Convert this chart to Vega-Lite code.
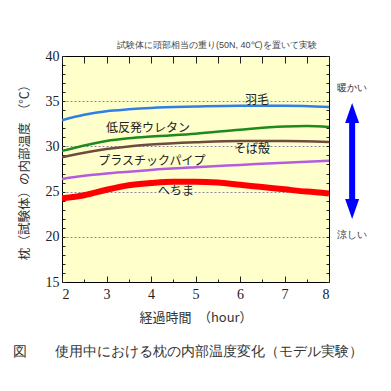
{
  "$schema": "https://vega.github.io/schema/vega-lite/v6.json",
  "width": 267,
  "height": 226,
  "autosize": "none",
  "padding": {"left": 62, "top": 56, "right": 62, "bottom": 109},
  "background": "white",
  "config": {
    "view": {"stroke": "black", "strokeWidth": 1, "fill": "#FFFFCC"},
    "axis": {"labelFont": "Liberation Serif", "labelFontSize": 14, "labelColor": "#222", "titleFont": "Noto Sans CJK JP", "titleFontWeight": "normal", "titleColor": "#333", "domain": false, "tickColor": "#222"}
  },
  "datasets": {
    "curves": [
      {"series": "羽毛", "t": 2, "temp": 32.9}, {"series": "羽毛", "t": 2.5, "temp": 33.5}, {"series": "羽毛", "t": 3, "temp": 33.9}, {"series": "羽毛", "t": 3.5, "temp": 34.1}, {"series": "羽毛", "t": 4, "temp": 34.25}, {"series": "羽毛", "t": 5, "temp": 34.4}, {"series": "羽毛", "t": 6, "temp": 34.5}, {"series": "羽毛", "t": 7, "temp": 34.5}, {"series": "羽毛", "t": 8, "temp": 34.35},
      {"series": "低反発ウレタン", "t": 2, "temp": 29.5}, {"series": "低反発ウレタン", "t": 2.5, "temp": 30.1}, {"series": "低反発ウレタン", "t": 3, "temp": 30.6}, {"series": "低反発ウレタン", "t": 3.5, "temp": 30.9}, {"series": "低反発ウレタン", "t": 4, "temp": 31.1}, {"series": "低反発ウレタン", "t": 5, "temp": 31.4}, {"series": "低反発ウレタン", "t": 6, "temp": 31.85}, {"series": "低反発ウレタン", "t": 7, "temp": 32.2}, {"series": "低反発ウレタン", "t": 7.5, "temp": 32.25}, {"series": "低反発ウレタン", "t": 8, "temp": 32.15},
      {"series": "そば殻", "t": 2, "temp": 28.8}, {"series": "そば殻", "t": 2.5, "temp": 29.3}, {"series": "そば殻", "t": 3, "temp": 29.7}, {"series": "そば殻", "t": 3.5, "temp": 30.0}, {"series": "そば殻", "t": 4, "temp": 30.2}, {"series": "そば殻", "t": 5, "temp": 30.45}, {"series": "そば殻", "t": 6, "temp": 30.6}, {"series": "そば殻", "t": 7, "temp": 30.6}, {"series": "そば殻", "t": 8, "temp": 30.5},
      {"series": "プラスチックパイプ", "t": 2, "temp": 26.4}, {"series": "プラスチックパイプ", "t": 2.5, "temp": 26.75}, {"series": "プラスチックパイプ", "t": 3, "temp": 27.0}, {"series": "プラスチックパイプ", "t": 3.5, "temp": 27.2}, {"series": "プラスチックパイプ", "t": 4, "temp": 27.4}, {"series": "プラスチックパイプ", "t": 5, "temp": 27.7}, {"series": "プラスチックパイプ", "t": 6, "temp": 27.95}, {"series": "プラスチックパイプ", "t": 7, "temp": 28.2}, {"series": "プラスチックパイプ", "t": 8, "temp": 28.4},
      {"series": "へちま", "t": 2, "temp": 24.25}, {"series": "へちま", "t": 2.5, "temp": 24.6}, {"series": "へちま", "t": 3, "temp": 25.2}, {"series": "へちま", "t": 3.5, "temp": 25.7}, {"series": "へちま", "t": 4, "temp": 25.95}, {"series": "へちま", "t": 4.5, "temp": 26.1}, {"series": "へちま", "t": 5, "temp": 26.1}, {"series": "へちま", "t": 5.5, "temp": 26.0}, {"series": "へちま", "t": 6, "temp": 25.75}, {"series": "へちま", "t": 6.5, "temp": 25.5}, {"series": "へちま", "t": 7, "temp": 25.25}, {"series": "へちま", "t": 7.5, "temp": 25.0}, {"series": "へちま", "t": 8, "temp": 24.8}
    ],
    "labels": [
      {"label": "羽毛", "t": 6.38, "temp": 35.1},
      {"label": "低反発ウレタン", "t": 3.93, "temp": 32.0},
      {"label": "そば殻", "t": 6.27, "temp": 29.7},
      {"label": "プラスチックパイプ", "t": 4.02, "temp": 28.4},
      {"label": "へちま", "t": 4.56, "temp": 25.05}
    ],
    "notes": [
      {"label": "暖かい", "t": 8.52, "temp": 36.5, "size": 10, "font": "Noto Sans CJK JP", "color": "#333"},
      {"label": "涼しい", "t": 8.52, "temp": 20.2, "size": 10, "font": "Noto Sans CJK JP", "color": "#333"},
      {"label": "試験体に頭部相当の重り(50N, 40℃)を置いて実験", "t": 5.48, "temp": 41.25, "size": 9, "font": "Noto Sans CJK JP", "color": "#444"},
      {"label": "図　　使用中における枕の内部温度変化（モデル実験）", "t": 4.83, "temp": 7.26, "size": 14, "font": "Noto Sans CJK JP", "color": "#333"}
    ],
    "shaft": [{"t": 8.52, "top": 33.0, "bottom": 24.1}],
    "heads": [
      {"t": 8.52, "temp": 33.7, "dir": "up"},
      {"t": 8.52, "temp": 23.07, "dir": "down"}
    ]
  },
  "resolve": {"axis": {"x": "independent", "y": "independent"}},
  "layer": [
    {
      "data": {"name": "curves"},
      "mark": {"type": "line", "interpolate": "monotone", "clip": true},
      "encoding": {
        "x": {"field": "t", "type": "quantitative", "scale": {"domain": [2, 8], "nice": false, "zero": false},
          "axis": {"orient": "bottom", "values": [2, 2.5, 3, 3.5, 4, 4.5, 5, 5.5, 6, 6.5, 7, 7.5, 8], "labelExpr": "datum.value % 1 === 0 ? format(datum.value, 'd') : ''",
            "tickSize": {"condition": {"test": "datum.value % 1 === 0", "value": -6}, "value": -3}, "labelPadding": 11, "grid": false,
            "title": "経過時間　（hour）", "titleFontSize": 13, "titlePadding": 10}},
        "y": {"field": "temp", "type": "quantitative", "scale": {"domain": [15, 40], "nice": false, "zero": false},
          "axis": {"orient": "left", "values": [15,16,17,18,19,20,21,22,23,24,25,26,27,28,29,30,31,32,33,34,35,36,37,38,39,40],
            "labelExpr": "datum.value % 5 === 0 ? datum.label : ''", "tickSize": -3, "labelPadding": 6,
            "grid": true, "gridDash": [2, 2], "gridColor": "#8888AA",
            "gridOpacity": {"condition": {"test": "datum.value % 5 === 0 && datum.value > 15 && datum.value < 40", "value": 1}, "value": 0},
            "title": "枕（試験体）の内部温度　（℃）", "titleFontSize": 12.5, "titlePadding": 14}},
        "color": {"field": "series", "type": "nominal", "legend": null,
          "scale": {"domain": ["羽毛", "低反発ウレタン", "そば殻", "プラスチックパイプ", "へちま"], "range": ["#2E7FE8", "#1E8A1E", "#6E4B3C", "#B45CE0", "#FF0000"]}},
        "strokeWidth": {"condition": {"test": "datum.series === 'へちま'", "value": 6}, "value": 2.5}
      }
    },
    {
      "data": {"name": "curves"},
      "mark": {"type": "point", "opacity": 0},
      "encoding": {
        "x": {"field": "t", "type": "quantitative",
          "axis": {"orient": "top", "values": [2, 2.5, 3, 3.5, 4, 4.5, 5, 5.5, 6, 6.5, 7, 7.5, 8], "labels": false, "tickSize": -7, "grid": false, "title": null}},
        "y": {"field": "temp", "type": "quantitative",
          "axis": {"orient": "right", "values": [15,16,17,18,19,20,21,22,23,24,25,26,27,28,29,30,31,32,33,34,35,36,37,38,39,40], "labels": false, "tickSize": -3, "grid": false, "title": null}}
      }
    },
    {
      "data": {"name": "labels"},
      "mark": {"type": "text", "font": "Noto Sans CJK JP", "fontSize": 12, "color": "#222", "baseline": "middle", "align": "center"},
      "encoding": {
        "x": {"field": "t", "type": "quantitative", "axis": null},
        "y": {"field": "temp", "type": "quantitative", "axis": null},
        "text": {"field": "label"}
      }
    },
    {
      "data": {"name": "notes"},
      "mark": {"type": "text", "baseline": "middle", "align": "center"},
      "encoding": {
        "x": {"field": "t", "type": "quantitative", "axis": null},
        "y": {"field": "temp", "type": "quantitative", "axis": null},
        "text": {"field": "label"},
        "size": {"field": "size", "type": "quantitative", "scale": null, "legend": null},
        "font": {"field": "font"},
        "color": {"field": "color", "type": "nominal", "scale": null, "legend": null}
      }
    },
    {
      "data": {"name": "shaft"},
      "mark": {"type": "rule", "color": "#0000FF", "strokeWidth": 6},
      "encoding": {
        "x": {"field": "t", "type": "quantitative", "axis": null},
        "y": {"field": "top", "type": "quantitative", "axis": null},
        "y2": {"field": "bottom"}
      }
    },
    {
      "data": {"name": "heads"},
      "mark": {"type": "point", "filled": true, "color": "#0000FF", "opacity": 1, "size": 400, "strokeWidth": 0},
      "encoding": {
        "x": {"field": "t", "type": "quantitative", "axis": null},
        "y": {"field": "temp", "type": "quantitative", "axis": null},
        "shape": {"field": "dir", "type": "nominal", "legend": null,
          "scale": {"domain": ["up", "down"], "range": ["M-0.7,1L0,-1L0.7,1Z", "M-0.7,-1L0,1L0.7,-1Z"]}}
      }
    }
  ]
}
